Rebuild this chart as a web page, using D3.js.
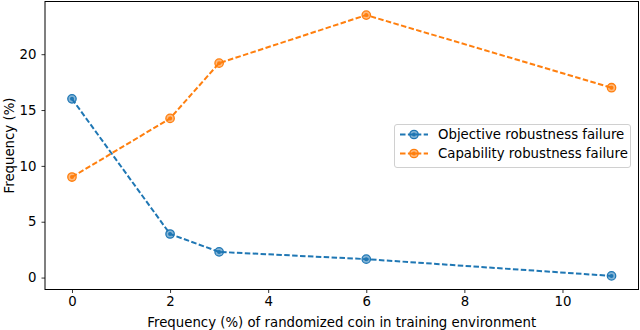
<!DOCTYPE html>
<html><head><meta charset="utf-8">
<script src="https://cdn.jsdelivr.net/npm/d3@7"></script>
<style>body{margin:0;background:#fff}svg{display:block}text{font-family:"DejaVu Sans",sans-serif}</style>
</head><body><svg id="c" width="640" height="330"></svg>
<script>
const xValues = [0, 2, 3, 6, 11];
const objective = [16.0, 3.9, 2.3, 1.65, 0.15];
const capability = [9.0, 14.25, 19.2, 23.5, 17.0];
const seriesNames = ["Objective robustness failure", "Capability robustness failure"];
const seriesColors = ["#1f77b4", "#ff7f0e"];
const xTicks = [0, 2, 4, 6, 8, 10];
const yTicks = [0, 5, 10, 15, 20];

const FS = 13.3;
const svg = d3.select("#c");
const L = 45, R = 638.5, T = 1.5, B = 289.5;
const x = d3.scaleLinear().domain([-0.55, 11.55]).range([L, R]);
const y = d3.scaleLinear().domain([-1.0675, 24.7175]).range([B, T]);

const xa = svg.append("g").attr("transform", `translate(0,${B})`)
  .call(d3.axisBottom(x).tickValues(xTicks).tickSize(3.5).tickPadding(4).tickFormat(d3.format("d")));
const ya = svg.append("g").attr("transform", `translate(${L},0)`)
  .call(d3.axisLeft(y).tickValues(yTicks).tickSize(3.5).tickPadding(5).tickFormat(d3.format("d")));
[xa, ya].forEach(a => {
  a.select(".domain").remove();
  a.selectAll("line").attr("stroke", "#000").attr("stroke-width", 0.8);
  a.selectAll("text").attr("font-size", FS).attr("fill", "#000").attr("font-family", "DejaVu Sans");
});
svg.append("rect").attr("x", L).attr("y", T).attr("width", R - L).attr("height", B - T)
  .attr("fill", "none").attr("stroke", "#000").attr("stroke-width", 1);

const data = [objective, capability];
const line = d3.line().x((d, i) => x(xValues[i])).y(d => y(d));
function marker(g, cx, cy, col) {
  g.append("circle").attr("cx", cx).attr("cy", cy).attr("r", 4.2)
    .attr("fill", col).attr("fill-opacity", 0.55).attr("stroke", col).attr("stroke-width", 1.3);
  g.append("circle").attr("cx", cx).attr("cy", cy).attr("r", 2).attr("fill", col);
}
data.forEach((vals, s) => {
  const g = svg.append("g");
  g.append("path").datum(vals).attr("d", line).attr("fill", "none")
    .attr("stroke", seriesColors[s]).attr("stroke-width", 2).attr("stroke-dasharray", "5.5,2.4");
  vals.forEach((v, i) => marker(g, x(xValues[i]), y(v), seriesColors[s]));
});

// legend
const lg = svg.append("g");
lg.append("rect").attr("x", 394.5).attr("y", 124.5).attr("width", 236).attr("height", 43).attr("rx", 2.5)
  .attr("fill", "#fff").attr("fill-opacity", 0.8).attr("stroke", "#d0d0d0").attr("stroke-width", 1);
seriesNames.forEach((n, s) => {
  const yy = 134.5 + s * 19;
  lg.append("line").attr("x1", 400).attr("x2", 428).attr("y1", yy).attr("y2", yy)
    .attr("stroke", seriesColors[s]).attr("stroke-width", 2).attr("stroke-dasharray", "5.5,2.4");
  marker(lg, 414, yy, seriesColors[s]);
  lg.append("text").attr("x", 438).attr("y", yy + 4.8).attr("font-size", FS).text(n);
});

svg.append("text").attr("x", (L + R) / 2).attr("y", 327).attr("text-anchor", "middle")
  .attr("font-size", FS).text("Frequency (%) of randomized coin in training environment");
svg.append("text").attr("transform", `translate(14,${(T + B) / 2}) rotate(-90)`).attr("text-anchor", "middle")
  .attr("font-size", FS).text("Frequency (%)");
</script></body></html>
